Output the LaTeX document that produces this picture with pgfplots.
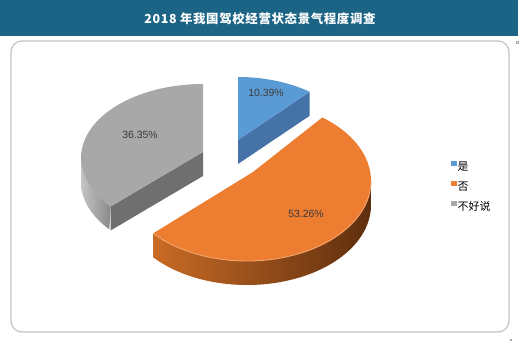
\documentclass[border=0pt]{standalone}
\usepackage{pgfplots}
\usepackage{pgfplotstable}
\pgfplotsset{compat=1.18}
\usepackage{fontspec}
\setmainfont{Liberation Sans}
\newfontfamily\cjk{Noto Sans CJK SC}
\newfontfamily\cjktitle[LetterSpace=5]{Noto Sans CJK SC}

\definecolor{barBlue}{HTML}{1B6485}
\definecolor{blueTop}{HTML}{5B9BD5}
\definecolor{blueSide}{HTML}{4573A8}
\definecolor{orTop}{HTML}{ED7D31}
\definecolor{orL}{HTML}{C96B25}
\definecolor{orR}{HTML}{5E2E0E}
\definecolor{orRim}{HTML}{F5A46E}
\definecolor{grTop}{HTML}{A8A8A8}
\definecolor{grSide}{HTML}{6F6F6F}
\definecolor{grWallL}{HTML}{C4C4C4}
\definecolor{grWallR}{HTML}{8A8A8A}
\definecolor{frameC}{HTML}{C3C3C3}
\definecolor{lbl}{HTML}{3A3A3A}

% shares (percent): 是, 否, 不好说
\pgfplotstableread{
value
10.39
53.26
36.35
}\piedata

\begin{document}%
\begin{tikzpicture}
\pgfplotstablegetelem{0}{value}\of\piedata \let\vA\pgfplotsretval
\pgfplotstablegetelem{1}{value}\of\piedata \let\vB\pgfplotsretval
\pgfplotstablegetelem{2}{value}\of\piedata \let\vC\pgfplotsretval
% slice boundary angles (start at 12 o'clock, clockwise)
\pgfmathsetmacro\aA{90-3.6*\vA}
\pgfmathsetmacro\aB{\aA-3.6*\vB}
\pgfmathsetmacro\aBp{\aB+360}
% blue slice geometry
\def\bcx{238}\def\bcy{149}\def\bax{238}\def\bay{140}
\pgfmathsetmacro\bex{\bcx+118*cos(\aA)}
\pgfmathsetmacro\bey{\bcy-72*sin(\aA)}
\pgfmathsetmacro\beyd{\bey+24}
\pgfmathsetmacro\bayd{\bay+24}
% gray slice geometry
\def\gcx{203}\def\gcy{158}\def\gax{203}\def\gay{152}
\pgfmathsetmacro\gex{\gcx+122*cos(\aB)}
\pgfmathsetmacro\gey{\gcy-74*sin(\aB)}
\pgfmathsetmacro\geyd{\gey+24}
\pgfmathsetmacro\gayd{\gay+24}
% orange slice geometry
\def\ocx{247}\def\ocy{181}\def\oax{253}\def\oay{172}
\def\orx{124}\def\ory{80}
\begin{axis}[
  scale only axis, width=520bp, height=341bp,
  xmin=0, xmax=520, ymin=0, ymax=341, y dir=reverse,
  hide axis, clip=false,
  legend style={at={(axis cs:451,161)}, anchor=north west, draw=none, fill=none,
    inner sep=0pt, row sep=8bp,
    font=\cjk\fontsize{11}{13}\selectfont,
    nodes={text height=9bp, text depth=2bp, inner sep=0.5bp}},
  legend cell align=left,
  legend image code/.code={\fill[#1, draw=none] (0bp,1bp) rectangle (6bp,6bp);},
]
\coordinate (TL) at (axis cs:0,0);
\coordinate (BR) at (axis cs:520,341);
% title bar and frame
\fill[barBlue] (axis cs:0,0) rectangle (axis cs:518,36);
\node[text=white, font=\cjktitle\bfseries\fontsize{12.5}{14}\selectfont] at (axis cs:260,19) {2018 年我国驾校经营状态景气程度调查};
\draw[frameC, line width=1.2bp, rounded corners=11bp] (axis cs:11,41) rectangle (axis cs:509,332);
\draw[gray!70, line width=0.5bp] (axis cs:516.5,41.5) rectangle (axis cs:518.5,43.5);
\fill[gray!70] (axis cs:510,339) rectangle (axis cs:512,341);

% ---- gray slice (不好说) ----
\addplot[forget plot, draw=none, left color=grWallL, right color=grWallR, domain=0:2, samples=81, variable=\s]
  ({\gcx+122*cos(180+(\aBp-180)*(1-abs(1-\s)))}, {\gcy-74*sin(180+(\aBp-180)*(1-abs(1-\s)))+24*(\s>1)}) -- cycle;
\addplot[forget plot, fill=grSide, draw=none] coordinates {(\gax,\gay) (\gex,\gey) (\gex,\geyd) (\gax,\gayd)} -- cycle;
\addplot[forget plot, fill=grTop, draw=none, domain=90:\aBp, samples=80, variable=\t]
  ({\gcx+122*cos(\t)}, {\gcy-74*sin(\t)}) -- (axis cs:\gax,\gay) -- cycle;

% ---- blue slice (是) ----
\addplot[forget plot, fill=blueSide, draw=none] coordinates {(\bax,\bay) (\bex,\bey) (\bex,\beyd) (\bax,\bayd)} -- cycle;
\addplot[forget plot, fill=blueTop, draw=none, domain=\aA:90, samples=40, variable=\t]
  ({\bcx+118*cos(\t)}, {\bcy-72*sin(\t)}) -- (axis cs:\bax,\bay) -- cycle;

% ---- orange slice (否) ----
\addplot[forget plot, draw=none, left color=orL, right color=orR, domain=0:2, samples=161, variable=\s]
  ({\ocx+\orx*cos(\aB+(0-(\aB))*(1-abs(1-\s)))}, {\ocy-\ory*sin(\aB+(0-(\aB))*(1-abs(1-\s)))+24*(\s>1)}) -- cycle;
\addplot[forget plot, fill=orTop, draw=none, domain=\aB:\aA, samples=120, variable=\t]
  ({\ocx+\orx*cos(\t)}, {\ocy-\ory*sin(\t)}) -- (axis cs:\oax,\oay) -- cycle;
\addplot[forget plot, draw=orRim, line width=0.9bp, domain=\aB:0, samples=80, variable=\t]
  ({\ocx+\orx*cos(\t)}, {\ocy-\ory*sin(\t)});

% labels
\node[text=lbl, font=\fontsize{10.5}{12}\selectfont] at (axis cs:266,93) {10.39\%};
\node[text=lbl, font=\fontsize{10.5}{12}\selectfont] at (axis cs:306,214) {53.26\%};
\node[text=lbl, font=\fontsize{10.5}{12}\selectfont] at (axis cs:140,135) {36.35\%};

% legend
\addlegendimage{fill=blueTop}
\addlegendentry{是}
\addlegendimage{fill=orTop}
\addlegendentry{否}
\addlegendimage{fill=grTop}
\addlegendentry{不好说}
\end{axis}
\pgfresetboundingbox
\path[use as bounding box] (TL) rectangle (BR);
\end{tikzpicture}%
\end{document}
